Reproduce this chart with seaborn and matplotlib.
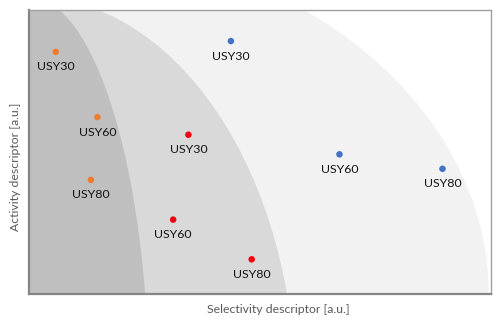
import numpy as np
import pandas as pd
import matplotlib
matplotlib.use("Agg")
import matplotlib.pyplot as plt
from matplotlib.patches import Ellipse
import seaborn as sns

# Catalyst samples and their (selectivity, activity) descriptors, arbitrary units
samples = ["USY30", "USY60", "USY80"]

group_1_sel = [0.058, 0.148, 0.134]
group_1_act = [0.853, 0.623, 0.402]

group_2_sel = [0.345, 0.312, 0.482]
group_2_act = [0.561, 0.262, 0.122]

group_3_sel = [0.437, 0.672, 0.895]
group_3_act = [0.891, 0.492, 0.441]

groups = ["group 1", "group 2", "group 3"]
group_colors = {"group 1": "#ED7D31", "group 2": "#F2000F", "group 3": "#4472C4"}

# Performance zones drawn as quarter ellipses from the lower-left corner:
# (centre x, centre y, semi-axis x, semi-axis y, fill)
zones = [
    (0.0, 0.0, 0.995, 1.25, "#F2F2F2"),
    (0.0, -0.352, 0.577, 1.401, "#D9D9D9"),
    (0.0, -0.352, 0.260, 1.398, "#BFBFBF"),
]

df = pd.DataFrame({
    "selectivity": group_1_sel + group_2_sel + group_3_sel,
    "activity": group_1_act + group_2_act + group_3_act,
    "group": [g for g in groups for _ in samples],
    "sample": samples * len(groups),
})

sns.set_theme(style="white")
plt.rcParams["font.family"] = ["Lato", "DejaVu Sans"]

fig = plt.figure(figsize=(5.0, 3.27), dpi=100)
ax = fig.add_axes([0.058, 0.101, 0.924, 0.868])

for cx, cy, a, b, col in zones:
    ax.add_patch(Ellipse((cx, cy), 2 * a, 2 * b, facecolor=col,
                         edgecolor="none", zorder=0))

sns.scatterplot(data=df, x="selectivity", y="activity", hue="group",
                palette=group_colors, s=22, linewidth=0, legend=False,
                ax=ax, zorder=3)

for _, row in df.iterrows():
    ax.annotate(row["sample"], (row["selectivity"], row["activity"]),
                xytext=(0, -15), textcoords="offset pixels",
                ha="center", va="center", fontsize=8.9, color="#141414",
                zorder=4)

ax.set_xlim(0, 1)
ax.set_ylim(0, 1)
ax.set_xticks([])
ax.set_yticks([])
ax.set_facecolor("white")

ax.set_xlabel("Selectivity descriptor [a.u.]", fontsize=8.8, color="#595959")
ax.set_ylabel("Activity descriptor [a.u.]", fontsize=8.8, color="#595959")
ax.xaxis.set_label_coords(0.539, -0.056)
ax.yaxis.set_label_coords(-0.030, 0.447)
ax.xaxis.label.set_va("center")
ax.yaxis.label.set_va("center")

for side in ["left", "bottom"]:
    ax.spines[side].set_color("#858585")
    ax.spines[side].set_linewidth(1.6)
for side in ["top", "right"]:
    ax.spines[side].set_color("#A0A0A0")
    ax.spines[side].set_linewidth(1.0)

fig.savefig("out.png", dpi=100)
